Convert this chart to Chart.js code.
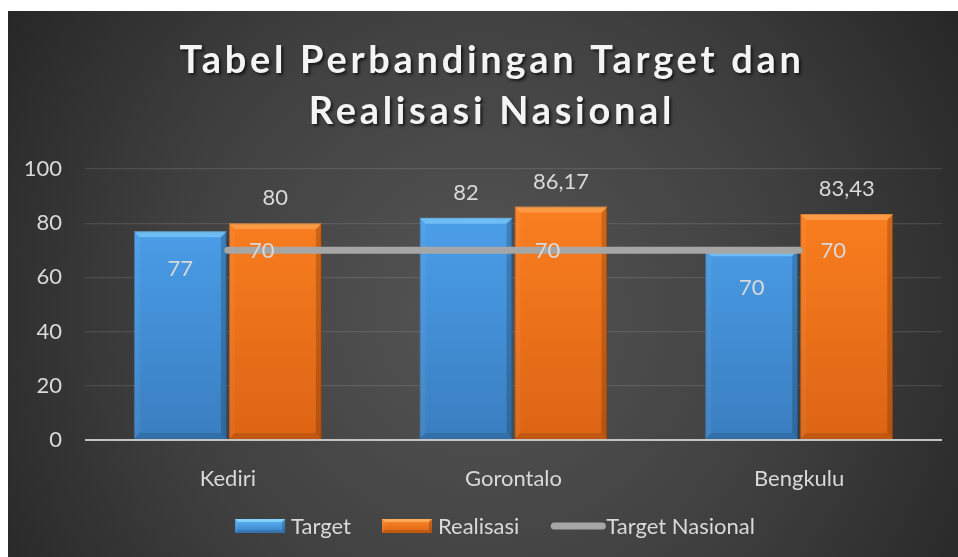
<!DOCTYPE html>
<html>
<head>
<meta charset="utf-8">
<script src="https://cdn.jsdelivr.net/npm/chart.js@4.4.1/dist/chart.umd.min.js"></script>
<style>
  html, body { margin: 0; padding: 0; background: #fff; }
  #wrap { position: absolute; left: 8px; top: 11px; width: 950px; height: 546px; }
</style>
</head>
<body>
<div id="wrap"><canvas id="chart" width="950" height="546"></canvas></div>
<script>
// data
const cities     = ['Kediri', 'Gorontalo', 'Bengkulu'];
const target     = [77, 82, 70];
const realisasi  = [80, 86.17, 83.43];
const nasional   = [70, 70, 70];
const yTicks     = [0, 20, 40, 60, 80, 100];
const titleLines = ['Tabel Perbandingan Target dan', 'Realisasi Nasional'];

// where Excel put the Target labels (inside the bar or above it)
const targetInside = [true, false, true];

const txt   = '#d9d9d9';
const font  = 'Lato, "Noto Sans", sans-serif';
const fmt   = v => String(v).replace('.', ',');

function barFill(top, bottom) {
  return ctx => {
    const area = ctx.chart.chartArea;
    if (!area) return top;
    const g = ctx.chart.ctx.createLinearGradient(0, area.top, 0, area.bottom);
    g.addColorStop(0, top);
    g.addColorStop(1, bottom);
    return g;
  };
}

const bgPlugin = {
  id: 'bg',
  beforeDraw(chart) {
    const { ctx, width, height } = chart;
    ctx.save();
    const cx = width * 0.5, cy = height * 0.55;
    const g = ctx.createRadialGradient(cx, cy, 0, cx, cy, width * 0.6);
    g.addColorStop(0, '#555555');
    g.addColorStop(0.55, '#404040');
    g.addColorStop(1, '#262626');
    ctx.fillStyle = g;
    ctx.fillRect(0, 0, width, height);
    ctx.restore();
  },
};

const titlePlugin = {
  id: 'titleText',
  afterDraw(chart) {
    const ctx = chart.ctx;
    ctx.save();
    ctx.font = 'bold 38px ' + font;
    ctx.letterSpacing = '3.7px';
    ctx.textAlign = 'center';
    ctx.textBaseline = 'alphabetic';
    ctx.fillStyle = '#f4f4f4';
    ctx.shadowColor = 'rgba(0,0,0,0.65)';
    ctx.shadowOffsetX = 2;
    ctx.shadowOffsetY = 2;
    ctx.shadowBlur = 3;
    ctx.fillText(titleLines[0], 484, 62);
    ctx.fillText(titleLines[1], 484, 113);
    ctx.restore();
  },
};

// little bevel on every bar, like the Excel 3-D format
function bevel(ctx, l, t, r, b, d, light, dark) {
  ctx.fillStyle = light;
  ctx.beginPath();
  ctx.moveTo(l, t); ctx.lineTo(r, t); ctx.lineTo(r - d, t + d); ctx.lineTo(l + d, t + d);
  ctx.closePath(); ctx.fill();
  ctx.fillStyle = dark;
  ctx.beginPath();
  ctx.moveTo(r, t); ctx.lineTo(r, b); ctx.lineTo(r - d, b - d); ctx.lineTo(r - d, t + d);
  ctx.closePath(); ctx.fill();
  ctx.fillStyle = 'rgba(0,0,0,0.12)';
  ctx.beginPath();
  ctx.moveTo(l, b); ctx.lineTo(r, b); ctx.lineTo(r - d, b - d); ctx.lineTo(l + d, b - d);
  ctx.closePath(); ctx.fill();
  ctx.fillStyle = 'rgba(255,255,255,0.05)';
  ctx.beginPath();
  ctx.moveTo(l, t); ctx.lineTo(l + d, t + d); ctx.lineTo(l + d, b - d); ctx.lineTo(l, b);
  ctx.closePath(); ctx.fill();
}

const bevelPlugin = {
  id: 'bevel',
  afterDatasetDraw(chart, args) {
    const meta = args.meta;
    if (meta.type !== 'bar') return;
    const ctx = chart.ctx;
    const light = args.index === 0 ? 'rgba(140,215,255,0.55)' : 'rgba(255,190,110,0.45)';
    ctx.save();
    meta.data.forEach(bar => {
      const p = bar.getProps(['x', 'y', 'base', 'width'], true);
      bevel(ctx, p.x - p.width / 2, p.y, p.x + p.width / 2, p.base, 6, light, 'rgba(0,0,0,0.18)');
    });
    ctx.restore();
  },
};

const labelPlugin = {
  id: 'labels',
  afterDatasetsDraw(chart) {
    const ctx = chart.ctx;
    ctx.save();
    ctx.font = '22px ' + font;
    ctx.fillStyle = txt;
    ctx.textAlign = 'center';
    ctx.textBaseline = 'middle';
    chart.getDatasetMeta(0).data.forEach((bar, i) => {
      const y = targetInside[i] ? bar.y + 38 : bar.y - 25;
      ctx.fillText(fmt(target[i]), bar.x, y);
    });
    chart.getDatasetMeta(1).data.forEach((bar, i) => {
      ctx.fillText(fmt(realisasi[i]), bar.x, bar.y - 25);
    });
    chart.getDatasetMeta(2).data.forEach((pt, i) => {
      ctx.fillText(fmt(nasional[i]), pt.x + 34, pt.y + 1);
    });
    ctx.restore();
  },
};

const legendPlugin = {
  id: 'legendBox',
  afterDraw(chart) {
    const ctx = chart.ctx;
    const items = [
      { text: 'Target', kind: 'bar', top: '#5ab4f8', bottom: '#3a80c4', light: 'rgba(150,225,255,0.7)' },
      { text: 'Realisasi', kind: 'bar', top: '#ff8a2a', bottom: '#d86212', light: 'rgba(255,195,120,0.6)' },
      { text: 'Target Nasional', kind: 'line' },
    ];
    ctx.save();
    ctx.font = '22px ' + font;
    ctx.textBaseline = 'middle';
    const boxW = 50, gap = 6, itemGap = 31;
    let total = 0;
    items.forEach((it, i) => {
      it.w = boxW + gap + ctx.measureText(it.text).width;
      total += it.w + (i ? itemGap : 0);
    });
    let x = 487 - total / 2;
    const cy = 515;
    items.forEach(it => {
      if (it.kind === 'bar') {
        const g = ctx.createLinearGradient(0, cy - 7, 0, cy + 7);
        g.addColorStop(0, it.top);
        g.addColorStop(1, it.bottom);
        ctx.fillStyle = g;
        ctx.fillRect(x, cy - 7, boxW, 14);
        bevel(ctx, x, cy - 7, x + boxW, cy + 7, 3, it.light, 'rgba(0,0,0,0.2)');
      } else {
        ctx.strokeStyle = '#a6a6a6';
        ctx.lineWidth = 7;
        ctx.lineCap = 'round';
        ctx.beginPath();
        ctx.moveTo(x + 4, cy);
        ctx.lineTo(x + boxW + 2, cy);
        ctx.stroke();
      }
      ctx.fillStyle = txt;
      ctx.fillText(it.text, x + boxW + gap, cy + 1);
      x += it.w + itemGap;
    });
    ctx.restore();
  },
};

new Chart(document.getElementById('chart'), {
  data: {
    labels: cities,
    datasets: [
      {
        type: 'bar',
        label: 'Target',
        data: target,
        backgroundColor: barFill('#4ea6f2', '#3a7ec0'),
        borderColor: '#3270ad',
        borderWidth: 1,
        barPercentage: 0.98,
        categoryPercentage: 0.665,
        order: 1,
      },
      {
        type: 'bar',
        label: 'Realisasi',
        data: realisasi,
        backgroundColor: barFill('#ff8322', '#dc6414'),
        borderColor: '#b8520c',
        borderWidth: 1,
        barPercentage: 0.98,
        categoryPercentage: 0.665,
        order: 1,
      },
      {
        type: 'line',
        label: 'Target Nasional',
        data: nasional,
        borderColor: '#a6a6a6',
        borderWidth: 7,
        borderCapStyle: 'round',
        pointRadius: 0,
        order: 0,
      },
    ],
  },
  options: {
    responsive: false,
    devicePixelRatio: 1,
    animation: false,
    layout: { padding: { left: 0, right: 16, top: 158, bottom: 67 } },
    plugins: {
      legend: { display: false },
      title: { display: false },
      tooltip: { enabled: false },
    },
    scales: {
      x: {
        grid: { display: false },
        border: { display: false },
        ticks: { color: txt, font: { family: font, size: 22 }, padding: 18 },
        afterFit: s => { s.height = 50; },
      },
      y: {
        min: 0,
        max: 100,
        afterBuildTicks: s => { s.ticks = yTicks.map(v => ({ value: v })); },
        grid: {
          drawTicks: false,
          color: c => c.tick.value === 0 ? '#c4c4c4' : 'rgba(255,255,255,0.11)',
          lineWidth: c => c.tick.value === 0 ? 2 : 1.3,
        },
        border: { display: false },
        ticks: { color: txt, font: { family: font, size: 22 }, padding: 23 },
        afterFit: s => { s.width = 77; },
      },
    },
  },
  plugins: [bgPlugin, bevelPlugin, labelPlugin, legendPlugin, titlePlugin],
});
</script>
</body>
</html>
